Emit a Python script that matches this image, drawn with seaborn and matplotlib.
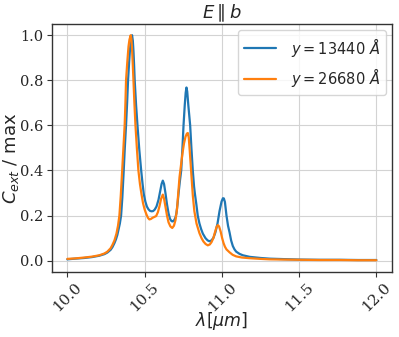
import matplotlib
matplotlib.use("Agg")
import matplotlib.pyplot as plt
import seaborn as sns
import pandas as pd

# wavelength (um) and normalised extinction
lam_blue = [10.000, 10.050, 10.110, 10.160, 10.207, 10.240, 10.259, 10.280, 10.292, 10.305,
            10.315, 10.324, 10.332, 10.340, 10.348, 10.356, 10.365, 10.372, 10.380, 10.387,
            10.393, 10.400, 10.406, 10.412, 10.419, 10.424, 10.428, 10.432, 10.436, 10.445,
            10.454, 10.466, 10.478, 10.487, 10.495, 10.505, 10.515, 10.525, 10.535, 10.545,
            10.555, 10.565, 10.577, 10.590, 10.600, 10.610, 10.618, 10.626, 10.635, 10.645,
            10.655, 10.665, 10.675, 10.682, 10.692, 10.700, 10.706, 10.713, 10.720, 10.728,
            10.737, 10.745, 10.752, 10.760, 10.766, 10.771, 10.776, 10.783, 10.795, 10.803,
            10.812, 10.820, 10.826, 10.835, 10.844, 10.855, 10.866, 10.877, 10.894, 10.908,
            10.920, 10.933, 10.946, 10.958, 10.972, 10.985, 10.998, 11.007, 11.013, 11.020,
            11.030, 11.040, 11.050, 11.060, 11.071, 11.082, 11.093, 11.115, 11.136, 11.180,
            11.250, 11.309, 11.400, 11.504, 11.630, 11.763, 11.880, 12.000]
c_blue = [0.006, 0.009, 0.012, 0.016, 0.022, 0.029, 0.036, 0.048, 0.060, 0.078,
          0.095, 0.115, 0.140, 0.165, 0.200, 0.280, 0.400, 0.500, 0.600, 0.700,
          0.800, 0.880, 0.940, 0.975, 1.000, 0.975, 0.930, 0.870, 0.800, 0.690,
          0.600, 0.490, 0.400, 0.340, 0.295, 0.262, 0.240, 0.228, 0.221, 0.219,
          0.220, 0.226, 0.240, 0.270, 0.305, 0.340, 0.355, 0.340, 0.300, 0.250,
          0.210, 0.185, 0.175, 0.174, 0.180, 0.192, 0.210, 0.250, 0.300, 0.350,
          0.400, 0.500, 0.600, 0.690, 0.745, 0.768, 0.750, 0.690, 0.600, 0.500,
          0.400, 0.330, 0.295, 0.250, 0.200, 0.165, 0.140, 0.120, 0.100, 0.090,
          0.086, 0.090, 0.102, 0.125, 0.165, 0.220, 0.262, 0.277, 0.276, 0.260,
          0.200, 0.155, 0.125, 0.090, 0.065, 0.050, 0.040, 0.030, 0.024, 0.017,
          0.012, 0.009, 0.007, 0.005, 0.004, 0.004, 0.003, 0.003]

lam_orange = [10.000, 10.050, 10.110, 10.160, 10.207, 10.240, 10.259, 10.280, 10.292, 10.305,
              10.318, 10.328, 10.337, 10.346, 10.355, 10.363, 10.371, 10.376, 10.380, 10.388,
              10.396, 10.402, 10.406, 10.410, 10.414, 10.418, 10.423, 10.428, 10.434, 10.441,
              10.450, 10.460, 10.470, 10.480, 10.490, 10.500, 10.512, 10.522, 10.531, 10.541,
              10.551, 10.563, 10.575, 10.586, 10.596, 10.607, 10.618, 10.626, 10.635, 10.645,
              10.655, 10.667, 10.679, 10.690, 10.700, 10.710, 10.718, 10.726, 10.735, 10.745,
              10.755, 10.765, 10.774, 10.780, 10.786, 10.792, 10.797, 10.803, 10.812, 10.822,
              10.836, 10.855, 10.870, 10.881, 10.895, 10.909, 10.922, 10.933, 10.945, 10.955,
              10.966, 10.974, 10.982, 10.992, 11.002, 11.011, 11.020, 11.030, 11.050, 11.070,
              11.093, 11.130, 11.180, 11.250, 11.309, 11.400, 11.504, 11.630, 11.763, 11.880,
              12.000]
c_orange = [0.008, 0.010, 0.014, 0.018, 0.024, 0.032, 0.040, 0.055, 0.070, 0.090,
            0.120, 0.155, 0.200, 0.290, 0.400, 0.500, 0.600, 0.700, 0.800, 0.880,
            0.950, 0.980, 0.990, 1.000, 0.985, 0.950, 0.880, 0.800, 0.700, 0.600,
            0.500, 0.400, 0.340, 0.295, 0.255, 0.228, 0.205, 0.190, 0.183, 0.185,
            0.190, 0.194, 0.198, 0.215, 0.240, 0.275, 0.293, 0.275, 0.240, 0.200,
            0.170, 0.152, 0.145, 0.155, 0.180, 0.230, 0.300, 0.370, 0.420, 0.475,
            0.520, 0.550, 0.564, 0.566, 0.545, 0.490, 0.440, 0.380, 0.290, 0.220,
            0.165, 0.122, 0.098, 0.085, 0.074, 0.068, 0.072, 0.082, 0.100, 0.125,
            0.150, 0.158, 0.152, 0.130, 0.100, 0.078, 0.062, 0.050, 0.037, 0.026,
            0.019, 0.014, 0.011, 0.008, 0.006, 0.005, 0.004, 0.003, 0.003, 0.002,
            0.002]

labels = [r"$y = 13440\ \AA$", r"$y = 26680\ \AA$"]
xticks = [10.0, 10.5, 11.0, 11.5, 12.0]
yticks = [0.0, 0.2, 0.4, 0.6, 0.8, 1.0]

df = pd.concat([
    pd.DataFrame({"lam": lam_blue, "c": c_blue, "series": labels[0]}),
    pd.DataFrame({"lam": lam_orange, "c": c_orange, "series": labels[1]}),
])

sns.set_style("whitegrid", {"grid.color": "#d3d3d3", "axes.edgecolor": "#333333",
                            "xtick.bottom": True, "ytick.left": True})

fig = plt.figure(figsize=(3.99, 3.37), dpi=100)
ax = fig.add_axes([0.130, 0.193, 0.852, 0.736])

sns.lineplot(data=df, x="lam", y="c", hue="series", palette=["#1f77b4", "#ff7f0e"],
             estimator=None, sort=False, linewidth=1.6, ax=ax)

ax.set_xlim(9.9, 12.1)
ax.set_ylim(-0.05, 1.05)
ax.set_xticks(xticks)
ax.set_yticks(yticks)
ax.set_xticklabels([f"{t:.1f}" for t in xticks], rotation=45, family="DejaVu Serif", fontsize=11)
ax.set_yticklabels([f"{t:.1f}" for t in yticks], family="DejaVu Serif", fontsize=10.5)
ax.tick_params(axis="both", length=3.5, width=0.8, color="#333333", pad=2.5)
for s in ax.spines.values():
    s.set_linewidth(1.0)
    s.set_color("#333333")

ax.set_title(r"$E \parallel b$", fontsize=13, pad=4)
ax.set_xlabel(r"$\lambda [\mu m]$", fontsize=12.5)
ax.set_ylabel(r"$C_{ext}$ / max", fontsize=13)
ax.xaxis.set_label_coords(0.5, -0.155)
ax.yaxis.set_label_coords(-0.09, 0.46)
ax.legend(title=None, loc="upper right", fontsize=10.5, frameon=True,
          labelspacing=0.5, borderpad=0.4, handlelength=2.2, handletextpad=1.0,
          borderaxespad=0.4)

fig.savefig("out.png", dpi=100)
